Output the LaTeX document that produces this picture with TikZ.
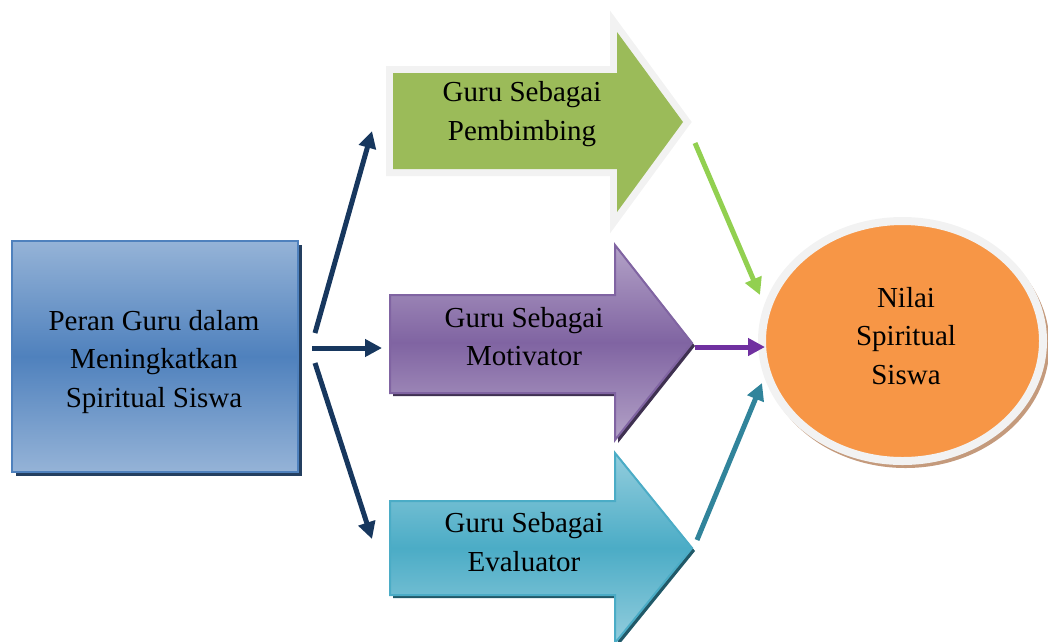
\documentclass[tikz,border=0pt]{standalone}
\usepackage{fontspec}
\setmainfont{Liberation Serif}
\usepackage{xcolor}
\usetikzlibrary{arrows.meta, calc}

\definecolor{birutua}{HTML}{17375E}
\definecolor{bayanganbiru}{HTML}{243F60}
\definecolor{birumuda}{HTML}{95B3D7}
\definecolor{birutengah}{HTML}{4F81BD}
\definecolor{hijau}{HTML}{9BBB59}
\definecolor{hijaupanah}{HTML}{92D050}
\definecolor{abu}{HTML}{F2F2F2}
\definecolor{unguterang}{HTML}{B3A2C7}
\definecolor{ungu}{HTML}{8064A2}
\definecolor{bayanganungu}{HTML}{3F3151}
\definecolor{ungupanah}{HTML}{7030A0}
\definecolor{tosca}{HTML}{4BACC6}
\definecolor{toscaterang}{HTML}{93CDDD}
\definecolor{bayangantosca}{HTML}{215968}
\definecolor{toscapanah}{HTML}{31849B}
\definecolor{oranye}{HTML}{F79646}
\definecolor{bayanganoranye}{HTML}{C49A7C}

\begin{document}
\begin{tikzpicture}[x=1pt, y=-1pt,
    >=Latex,
    panah/.style={-{Triangle[length=17pt,width=17pt]}, line width=5pt},
    teks/.style={align=center, inner sep=0pt, font=\fontsize{29}{38.5}\selectfont},
    bayangan/.style={transform canvas={xshift=3pt,yshift=-3pt}}
  ]
  \useasboundingbox (0,0) rectangle (1048,641);

  % kotak kiri
  \fill[bayanganbiru] (16,245) rectangle (302,476);
  \shade[top color=birumuda, bottom color=birumuda, middle color=birutengah]
    (12,241) rectangle (298,472);
  \draw[birutengah, line width=2.5pt] (12,241) rectangle (298,472);
  \node[teks] (peran) at (154,361.7) {Peran Guru dalam\\Meningkatkan\\Spiritual Siswa};

  % panah hijau
  \draw[abu, line width=14pt, line join=miter]
    (393,73) -- (617,73) -- (617,32) -- (683,122) -- (617,212) -- (617,169) -- (393,169) -- cycle;
  \fill[hijau]
    (393,73) -- (617,73) -- (617,32) -- (683,122) -- (617,212) -- (617,169) -- (393,169) -- cycle;
  \node[teks] (pembimbing) at (522,114) {Guru Sebagai\\Pembimbing};

  % panah ungu
  \fill[bayanganungu, bayangan]
    (390,295) -- (615,295) -- (615,245) -- (692,343) -- (615,440) -- (615,393) -- (390,393) -- cycle;
  \shade[top color=unguterang, bottom color=unguterang, middle color=ungu]
    (390,295) -- (615,295) -- (615,245) -- (692,343) -- (615,440) -- (615,393) -- (390,393) -- cycle;
  \draw[ungu, line width=2pt, line join=miter]
    (390,295) -- (615,295) -- (615,245) -- (692,343) -- (615,440) -- (615,393) -- (390,393) -- cycle;
  \node[teks] (motivator) at (524,336.5) {Guru Sebagai\\Motivator};

  % panah tosca
  \fill[bayangantosca, bayangan]
    (390,501) -- (615,501) -- (615,453) -- (692,548) -- (615,643) -- (615,595) -- (390,595) -- cycle;
  \shade[top color=toscaterang, bottom color=toscaterang, middle color=tosca]
    (390,501) -- (615,501) -- (615,453) -- (692,548) -- (615,643) -- (615,595) -- (390,595) -- cycle;
  \draw[tosca, line width=2pt, line join=miter]
    (390,501) -- (615,501) -- (615,453) -- (692,548) -- (615,643) -- (615,595) -- (390,595) -- cycle;
  \node[teks] (evaluator) at (524,542) {Guru Sebagai\\Evaluator};

  % elips kanan
  \fill[bayanganoranye] (905.5,345) ellipse [x radius=144, y radius=123];
  \draw[abu, line width=8pt, fill=oranye] (902.5,341) ellipse [x radius=140.5, y radius=120];
  \node[teks] (nilai) at (906,336) {Nilai\\Spiritual\\Siswa};

  % ujung-ujung penghubung
  \coordinate (a1) at (315,333);  \coordinate (b1) at (372,131);
  \coordinate (a2) at (312,348);  \coordinate (b2) at (382,348);
  \coordinate (a3) at (315,363);  \coordinate (b3) at (372,539);
  \coordinate (c1) at (695,143);  \coordinate (d1) at (760,295);
  \coordinate (c2) at (695,347);  \coordinate (d2) at (765,347);
  \coordinate (c3) at (697,540);  \coordinate (d3) at (762,383);

  \foreach \i in {1,2,3} \draw[panah, birutua] (a\i) -- (b\i);
  \draw[panah, hijaupanah] (c1) -- (d1);
  \draw[panah, ungupanah] (c2) -- (d2);
  \draw[panah, toscapanah] (c3) -- (d3);
\end{tikzpicture}
\end{document}
